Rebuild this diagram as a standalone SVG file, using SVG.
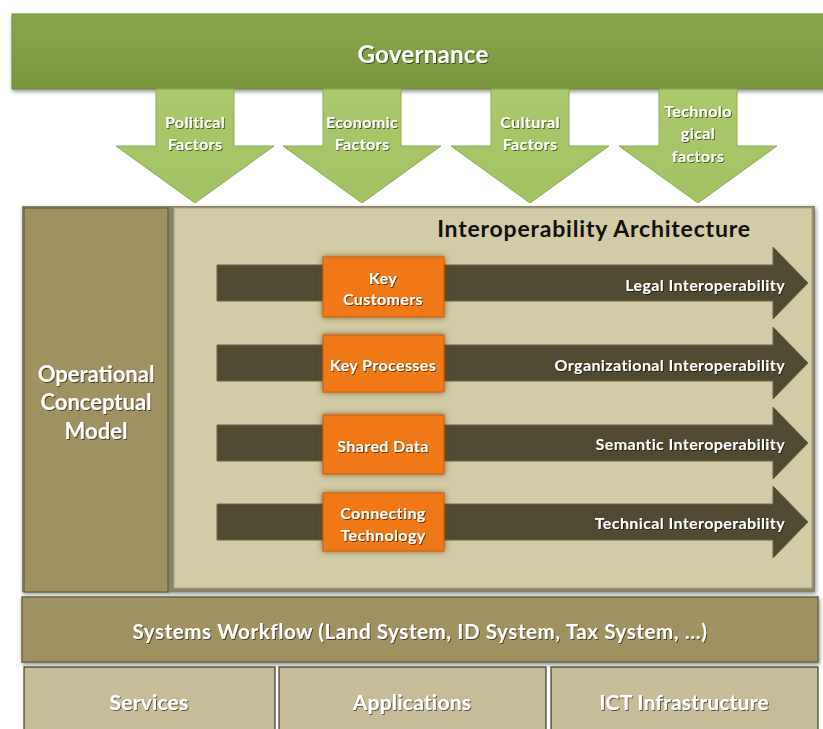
<svg xmlns="http://www.w3.org/2000/svg" width="823" height="729" viewBox="0 0 823 729">
<defs>
<linearGradient id="gov" x1="0" y1="0" x2="0" y2="1"><stop offset="0" stop-color="#8aa64e"/><stop offset="1" stop-color="#7a973e"/></linearGradient>
<linearGradient id="dn" x1="0" y1="0" x2="0" y2="1"><stop offset="0" stop-color="#abc96d"/><stop offset="1" stop-color="#a3c263"/></linearGradient>
<filter id="sh" x="-10%" y="-10%" width="130%" height="140%"><feDropShadow dx="1" dy="2" stdDeviation="2" flood-color="#000" flood-opacity="0.45"/></filter>
<filter id="glow" x="-20%" y="-20%" width="140%" height="140%"><feDropShadow dx="0" dy="0" stdDeviation="3" flood-color="#7a4a10" flood-opacity="0.8"/></filter>
<filter id="ts" x="-10%" y="-20%" width="120%" height="150%"><feDropShadow dx="1" dy="1" stdDeviation="0.6" flood-color="#000" flood-opacity="0.55"/></filter>
</defs>
<style>
text{font-family:Lato,"Liberation Sans",sans-serif;font-weight:bold;fill:#fff;text-anchor:middle;dominant-baseline:central}
.w{filter:url(#ts)}
.f15{font-size:16px;letter-spacing:0.4px}
.dn{fill:url(#dn);stroke:#8eab55;stroke-width:1}
.bar{fill:#504a31;stroke:#6a6446;stroke-width:1}
.or{fill:#f07816;stroke:#c85e10;stroke-width:1;filter:url(#glow)}
.olive{fill:#a09260;stroke:#6c6546;stroke-width:1.5}
.tan{fill:#c6bd98;stroke:#3f3a28;stroke-width:1.2}
.bt{font-size:21px;letter-spacing:0.2px}
.col{font-size:22px}
</style>
<rect width="823" height="729" fill="#fff"/>

<g id="governance">
<rect x="12" y="14" width="815" height="75" fill="url(#gov)" stroke="#6d8a36" filter="url(#sh)"/>
<text x="423" y="53" style="font-size:24px;letter-spacing:0.3px" class="w">Governance</text>
</g>

<g id="factors">
<g id="political">
<polygon class="dn" points="156,89 234,89 234,146 274,146 195,203 116,146 156,146"/>
<text x="195" y="121" class="f15 w">Political</text><text x="195" y="143" class="f15 w">Factors</text>
</g>
<g id="economic">
<polygon class="dn" points="323,89 401,89 401,146 441,146 362,203 283,146 323,146"/>
<text x="362" y="121" class="f15 w">Economic</text><text x="362" y="143" class="f15 w">Factors</text>
</g>
<g id="cultural">
<polygon class="dn" points="491,89 569,89 569,146 609,146 530,203 451,146 491,146"/>
<text x="530" y="121" class="f15 w">Cultural</text><text x="530" y="143" class="f15 w">Factors</text>
</g>
<g id="technological">
<polygon class="dn" points="659,89 737,89 737,146 777,146 698,203 619,146 659,146"/>
<text x="698" y="110" class="f15 w">Technolo</text><text x="698" y="132" class="f15 w">gical</text><text x="698" y="155" class="f15 w">factors</text>
</g>
</g>

<g id="frame">
<rect x="22" y="206" width="793" height="386" fill="#8a8466" filter="url(#sh)"/>
</g>
<g id="operational">
<rect class="olive" x="24" y="208" width="144" height="384"/>
<text x="96" y="373" class="col w">Operational</text>
<text x="96" y="401" class="col w">Conceptual</text>
<text x="96" y="430" class="col w">Model</text>
</g>
<g id="interop">
<rect x="174" y="208" width="638" height="380" fill="#d2cba6" stroke="#a9a383" stroke-width="1"/>
<text x="594" y="228" style="font-size:23px;letter-spacing:0.8px;fill:#111">Interoperability Architecture</text>
</g>

<g id="connectors">
<polygon class="bar" points="217,265 773,265 773,247 808,283 773,319 773,301 217,301"/>
<polygon class="bar" points="217,345 773,345 773,327 808,363 773,399 773,381 217,381"/>
<polygon class="bar" points="217,425 773,425 773,407 808,443 773,479 773,461 217,461"/>
<polygon class="bar" points="217,504 773,504 773,486 808,522 773,558 773,540 217,540"/>
</g>

<g id="legal"><text x="785" y="284" class="f15 w" style="text-anchor:end">Legal Interoperability</text></g>
<g id="organizational"><text x="785" y="364" class="f15 w" style="text-anchor:end">Organizational Interoperability</text></g>
<g id="semantic"><text x="785" y="443" class="f15 w" style="text-anchor:end">Semantic Interoperability</text></g>
<g id="technical"><text x="785" y="522" class="f15 w" style="text-anchor:end">Technical Interoperability</text></g>

<g id="key-customers">
<rect class="or" x="323" y="257" width="121" height="60"/>
<text x="383" y="277" class="f15 w">Key</text><text x="383" y="298" class="f15 w">Customers</text>
</g>
<g id="key-processes">
<rect class="or" x="323" y="335" width="121" height="57"/>
<text x="383" y="364" class="f15 w">Key Processes</text>
</g>
<g id="shared-data">
<rect class="or" x="323" y="415" width="121" height="59"/>
<text x="383" y="445" class="f15 w">Shared Data</text>
</g>
<g id="connecting-technology">
<rect class="or" x="323" y="493" width="121" height="58"/>
<text x="383" y="512" class="f15 w">Connecting</text><text x="383" y="534" class="f15 w">Technology</text>
</g>

<g id="systems-workflow">
<rect class="olive" x="22" y="597" width="796" height="65" filter="url(#sh)"/>
<text x="420" y="631" style="font-size:20.5px;letter-spacing:0.6px" class="w">Systems Workflow (Land System, ID System, Tax System, …)</text>
</g>

<g id="services"><rect class="tan" x="24" y="667" width="251" height="66"/><text x="149" y="701" class="bt w">Services</text></g>
<g id="applications"><rect class="tan" x="279" y="667" width="267" height="66"/><text x="412" y="701" class="bt w">Applications</text></g>
<g id="ict"><rect class="tan" x="551" y="667" width="267" height="66"/><text x="684" y="701" class="bt w">ICT Infrastructure</text></g>
</svg>
